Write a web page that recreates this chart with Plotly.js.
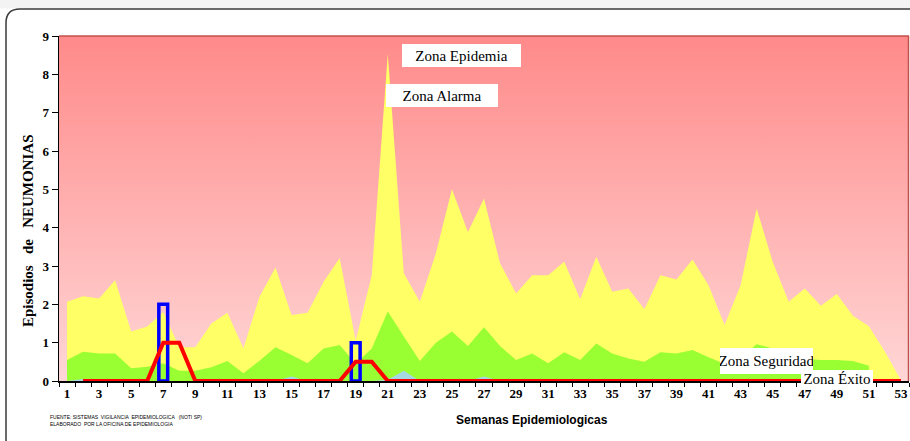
<!DOCTYPE html>
<html>
<head>
<meta charset="utf-8">
<script src="https://cdn.plot.ly/plotly-3.0.1.min.js"></script>
<style>html,body{margin:0;padding:0;background:#fff;}#chart{width:910px;height:441px;}</style>
</head>
<body>
<div id="chart"></div>
<script>
// ---- data ----
const weeks = [1,2,3,4,5,6,7,8,9,10,11,12,13,14,15,16,17,18,19,20,21,22,23,24,25,26,27,28,29,30,31,32,33,34,35,36,37,38,39,40,41,42,43,44,45,46,47,48,49,50,51,52,53];
const zonaEpidemiaTop = 9;
const zonaAlarma = [2.07,2.21,2.15,2.63,1.29,1.42,1.80,0.88,0.88,1.50,1.78,0.85,2.20,2.96,1.72,1.78,2.59,3.21,1.05,2.76,8.54,2.81,2.07,3.33,5.00,3.89,4.76,3.07,2.28,2.76,2.76,3.11,2.13,3.24,2.33,2.41,1.87,2.76,2.65,3.17,2.50,1.46,2.50,4.50,3.11,2.07,2.41,1.96,2.27,1.70,1.43,0.76,0.02];
const zonaSeguridad = [0.55,0.76,0.72,0.72,0.33,0.37,0.46,0.27,0.27,0.36,0.52,0.20,0.53,0.88,0.68,0.46,0.85,0.94,0.45,0.85,1.81,1.16,0.52,1.00,1.29,0.91,1.40,0.91,0.55,0.72,0.46,0.75,0.55,0.98,0.72,0.59,0.50,0.75,0.72,0.81,0.62,0.45,0.60,0.96,0.85,0.75,0.58,0.55,0.55,0.52,0.40,null,null];
const zonaExito = [0,0.05,0,0,0,0,0,0,0,0,0,0,0,0,0.12,0,0,0,0,0,0.03,0.27,0,0,0,0,0.12,0,0,0,0,0,0,0.06,0,0,0,0,0,0,0,0,0,0,0,0,0,0,0,0,0,0,0];
const casosBarras = [null,null,null,null,null,null,2,null,null,null,null,null,null,null,null,null,null,null,1,null,null,null,null,null,null,null,null,null,null,null,null,null,null,null,null,null,null,null,null,null,null,null,null,null,null,null,null,null,null,null,null,null,null];
const casosLinea = [null,0,0,0,0,0,1,1,0,0,0,0,0,0,0,0,0,0,0.5,0.5,0,0,0,0,0,0,0,0,0,0,0,0,0,0,0,0,0,0,0,0,0,0,0,0,0,0,0,0,0,0,0,0,0];
const xTickVals = [1,3,5,7,9,11,13,15,17,19,21,23,25,27,29,31,33,35,37,39,41,43,45,47,49,51,53];
const yTickVals = [0,1,2,3,4,5,6,7,8,9];

// ---- layout helpers (pixel -> paper) ----
const W = 910, H = 441, ML = 59, MR = 1, MT = 36, MB = 60;
const PW = W - ML - MR, PH = H - MT - MB;
const px = x => (x - ML) / PW;
const py = y => (H - MB - y) / PH;

const serif = 'Liberation Serif, DejaVu Serif, serif';
const narrow = 'Liberation Sans Narrow, Liberation Sans, Arial, sans-serif';

const traces = [
  { x: [0.5, 53.5], y: [zonaEpidemiaTop, zonaEpidemiaTop], type: 'scatter', mode: 'none',
    fill: 'tozeroy', fillcolor: '#FF9A9A',
    fillgradient: { type: 'vertical', colorscale: [[0, '#FFD6D6'], [1, '#FF8A8A']], start: 0, stop: zonaEpidemiaTop },
    hoverinfo: 'skip', showlegend: false },
  { x: weeks, y: zonaAlarma, type: 'scatter', mode: 'none', fill: 'tozeroy', fillcolor: '#FFFF66', showlegend: false },
  { x: weeks, y: zonaSeguridad, type: 'scatter', mode: 'none', fill: 'tozeroy', fillcolor: '#99FF33', showlegend: false },
  { x: weeks, y: zonaExito, type: 'scatter', mode: 'none', fill: 'tozeroy', fillcolor: '#A6D8E2', showlegend: false },
  { x: weeks, y: casosBarras, type: 'bar', width: 0.55, xaxis: 'x2', yaxis: 'y2',
    marker: { color: 'rgba(0,0,0,0)', line: { color: '#0000FF', width: 3.5 } }, showlegend: false },
  { x: weeks, y: casosLinea, type: 'scatter', mode: 'lines', xaxis: 'x2', yaxis: 'y2',
    line: { color: '#FF0000', width: 4 }, showlegend: false }
];

const annBox = (text, x0, x1, y0, y1, size) => ({
  text: text, xref: 'paper', yref: 'paper',
  x: px((x0 + x1) / 2), y: py((y0 + y1) / 2), xanchor: 'center', yanchor: 'middle',
  width: x1 - x0, height: y1 - y0, bgcolor: '#FFFFFF', borderpad: 0, borderwidth: 0,
  showarrow: false, font: { family: serif, size: size, color: '#000' }
});

const layout = {
  width: W, height: H,
  margin: { l: ML, r: MR, t: MT, b: MB, pad: 0 },
  paper_bgcolor: '#FFFFFF', plot_bgcolor: 'rgba(0,0,0,0)',
  showlegend: false, bargap: 0,
  xaxis: {
    range: [0.5, 53.5], tickvals: xTickVals, ticks: '', showgrid: false, zeroline: false,
    showline: true, linecolor: '#000', linewidth: 1.5,
    tickfont: { family: serif, size: 13, color: '#000', weight: 'bold' },
    minor: { tick0: 0.5, dtick: 1, ticks: 'outside', ticklen: 4, tickcolor: '#000', tickwidth: 1, showgrid: false },
    fixedrange: true
  },
  yaxis: {
    range: [0, 9], tickvals: yTickVals, ticks: 'outside', ticklen: 6, tickcolor: '#000', tickwidth: 1,
    showgrid: false, zeroline: false, showline: true, linecolor: '#000', linewidth: 1.5,
    tickfont: { family: serif, size: 13, color: '#000', weight: 'bold' },
    fixedrange: true
  },
  xaxis2: { overlaying: 'x', range: [0.5, 53.5], visible: false, fixedrange: true },
  yaxis2: { overlaying: 'y', range: [0, 9], visible: false, fixedrange: true },
  shapes: [
    { type: 'rect', xref: 'paper', yref: 'paper', x0: px(0), x1: px(910), y0: py(0), y1: py(8.5),
      fillcolor: '#F3F3F3', line: { width: 0 }, layer: 'below' },
    { type: 'path', xref: 'paper', yref: 'paper', layer: 'above',
      path: `M ${px(6)} ${py(441)} L ${px(6)} ${py(23)} Q ${px(6)} ${py(9)} ${px(20)} ${py(9)} L ${px(912)} ${py(9)}`,
      line: { color: '#3A3A3A', width: 1.5 } },
    { type: 'line', xref: 'paper', yref: 'paper', x0: 0, x1: 1, y0: 1, y1: 1, line: { color: '#C0504D', width: 1.5 } },
    { type: 'line', xref: 'paper', yref: 'paper', x0: px(908.5), x1: px(908.5), y0: 0, y1: 1, line: { color: '#C0504D', width: 1.5 } }
  ],
  annotations: [
    annBox('Zona Epidemia', 402, 521, 44, 67, 15),
    annBox('Zona Alarma', 386, 498, 84, 107, 15),
    annBox('Zona Seguridad', 720, 813, 348, 374, 15),
    annBox('Zona Éxito', 801, 873, 370, 387, 15),
    { text: '<b>Episodios&nbsp;&nbsp;&nbsp;de&nbsp;&nbsp;&nbsp;NEUMONIAS</b>', xref: 'paper', yref: 'paper', x: px(28), y: py(231),
      xanchor: 'center', yanchor: 'middle', textangle: -90, showarrow: false,
      font: { family: serif, size: 15, color: '#000' } },
    { text: '<b>Semanas Epidemiologicas</b>', xref: 'paper', yref: 'paper', x: px(532), y: py(420),
      xanchor: 'center', yanchor: 'middle', showarrow: false,
      font: { family: narrow, size: 12, color: '#000' } },
    { text: 'FUENTE: SISTEMAS  VIGILANCIA  EPIDEMIOLOGICA   (NOTI SP)<br>ELABORADO  POR LA OFICINA DE EPIDEMIOLOGIA',
      xref: 'paper', yref: 'paper', x: px(48), y: py(420), xanchor: 'left', yanchor: 'middle', align: 'left',
      showarrow: false, font: { family: narrow, size: 5, color: '#000' } }
  ]
};

Plotly.newPlot('chart', traces, layout, { displayModeBar: false, staticPlot: true });
</script>
</body>
</html>
